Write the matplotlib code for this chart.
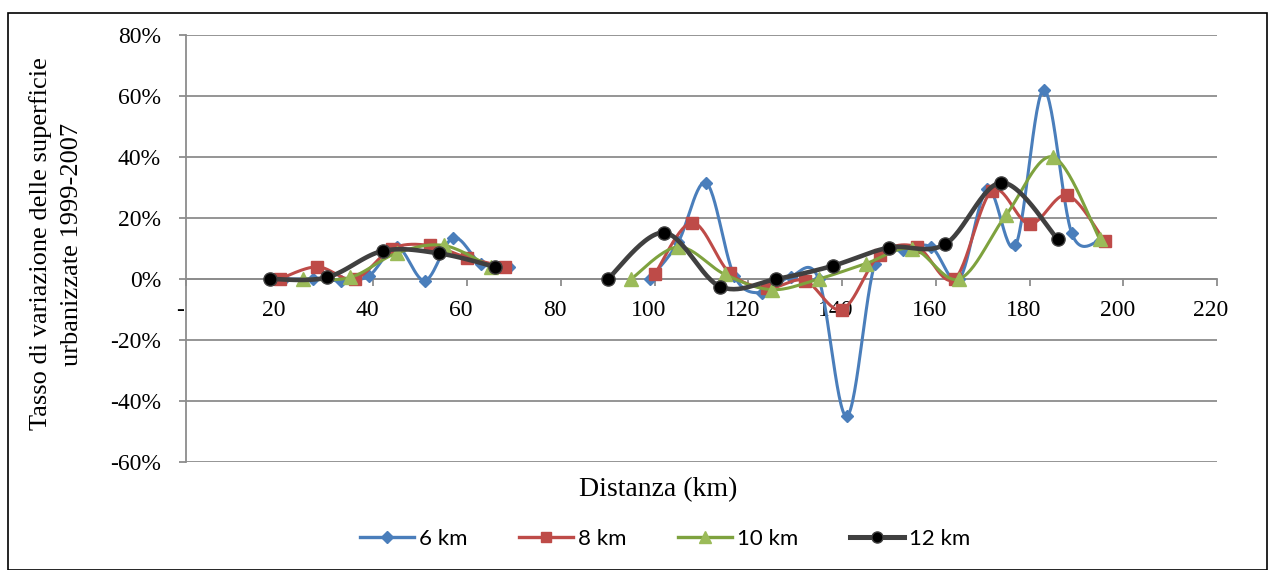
import numpy as np
import matplotlib
matplotlib.use("Agg")
import matplotlib.pyplot as plt
from matplotlib.lines import Line2D
from matplotlib.patches import Rectangle
from matplotlib.ticker import FixedLocator, FuncFormatter
from matplotlib.transforms import ScaledTranslation

nan = np.nan

# ---- data (distance km, rate %) ----
x6 = [21, 27, 33, 39, 45, 51, 57, 63, 69, 75, 81, 87, 93, 99, 105, 111, 117, 123,
      129, 135, 141, 147, 153, 159, 165, 171, 177, 183, 189, 195]
y6 = [0, 0, -0.5, 1, 10.5, -0.5, 13.5, 5, 4, nan, nan, nan, nan, 0, 12, 31.5, 1, -4.5,
      0.8, 0, -45, 5, 9.5, 10.5, 0, 29.5, 11, 62, 15, 12.5]

x8 = [20, 28, 36, 44, 52, 60, 68, 76, 84, 92, 100, 108, 116, 124, 132, 140, 148, 156,
      164, 172, 180, 188, 196]
y8 = [0, 4, 0, 10, 11, 7, 4, nan, nan, nan, 1.5, 18.5, 2, -3, -0.5, -10, 8, 10.5,
      0, 29, 18, 27.5, 12.5]

x10 = [25, 35, 45, 55, 65, 75, 85, 95, 105, 115, 125, 135, 145, 155, 165, 175, 185, 195]
y10 = [0, 0.5, 8.5, 11, 4, nan, nan, 0, 10.5, 1.5, -3.5, 0, 5, 10, 0, 21, 40, 13]

x12 = [18, 30, 42, 54, 66, 78, 90, 102, 114, 126, 138, 150, 162, 174, 186]
y12 = [0, 0.5, 9.2, 8.4, 4, nan, 0, 15.2, -2.5, 0, 4.3, 10.3, 11.4, 31.6, 13.1]

labels = ["6 km", "8 km", "10 km", "12 km"]
xticks = [0, 20, 40, 60, 80, 100, 120, 140, 160, 180, 200, 220]
yticks = [-60, -40, -20, 0, 20, 40, 60, 80]

# ---- style ----
colors = ["#4A7EBB", "#BE4B48", "#7EA23E", "#404040"]
mfc = ["#4A7EBB", "#BE4B48", "#9BBB59", "#000000"]
mec = ["#4A7EBB", "#BE4B48", "#9BBB59", "#404040"]
markers = ["D", "s", "^", "o"]
msizes = [6.5, 8, 10.5, 9.5]
leg_ms = [6, 7, 8.5, 8]
lws = [2.2, 2.2, 2.2, 3.3]
serif = ["Liberation Serif", "DejaVu Serif"]
grid_c = "#8C8C8C"


def smooth_runs(xs, ys, n=30):
    xs = np.asarray(xs, float)
    ys = np.asarray(ys, float)
    runs, cur = [], []
    for xv, yv in zip(xs, ys):
        if np.isnan(yv):
            if cur:
                runs.append(cur)
            cur = []
        else:
            cur.append((xv, yv))
    if cur:
        runs.append(cur)
    out = []
    for r in runs:
        P = np.array(r)
        m = len(P)
        if m == 1:
            out.append((P[:, 0], P[:, 1]))
            continue
        segx, segy = [], []
        t = np.linspace(0, 1, n)
        for i in range(m - 1):
            p0 = P[max(i - 1, 0)]
            p1 = P[i]
            p2 = P[i + 1]
            p3 = P[min(i + 2, m - 1)]
            c1 = p1 + (p2 - p0) / 6.0
            c2 = p2 - (p3 - p1) / 6.0
            b = ((1 - t) ** 3)[:, None] * p1 + (3 * (1 - t) ** 2 * t)[:, None] * c1 \
                + (3 * (1 - t) * t ** 2)[:, None] * c2 + (t ** 3)[:, None] * p2
            segx.append(b[:, 0])
            segy.append(b[:, 1])
        out.append((np.concatenate(segx), np.concatenate(segy)))
    return out


plt.rcParams["axes.unicode_minus"] = False
W, H = 1274, 570
fig = plt.figure(figsize=(W / 100, H / 100), dpi=100)
ax = fig.add_axes([186 / W, 1 - 462 / H, (1217 - 186) / W, (462 - 35) / H])

series = [(x6, y6), (x8, y8), (x10, y10), (x12, y12)]
for k, (xs, ys) in enumerate(series):
    for sx, sy in smooth_runs(xs, ys):
        ax.plot(sx, sy, color=colors[k], lw=lws[k], zorder=3 + k, solid_capstyle="round")
    ax.plot(xs, ys, ls="none", marker=markers[k], ms=msizes[k], mfc=mfc[k], mec=mec[k],
            mew=1.0, zorder=3 + k)

ax.set_xlim(0, 220)
ax.set_ylim(-60, 80)
ax.yaxis.set_major_locator(FixedLocator(yticks))
ax.xaxis.set_major_locator(FixedLocator(xticks))
ax.yaxis.set_major_formatter(FuncFormatter(lambda v, p: "%d%%" % round(v)))
ax.xaxis.set_major_formatter(FuncFormatter(lambda v, p: "-" if v == 0 else "%d" % round(v)))
ax.grid(axis="y", color=grid_c, lw=1.3, zorder=1)
ax.set_axisbelow(True)
for s in ["top", "right"]:
    ax.spines[s].set_visible(False)
ax.spines["bottom"].set_position(("data", 0))
ax.spines["bottom"].set_color(grid_c)
ax.spines["bottom"].set_linewidth(1.3)
ax.spines["left"].set_color(grid_c)
ax.spines["left"].set_linewidth(1.3)
ax.tick_params(axis="y", direction="out", length=5, width=1.3, color=grid_c, pad=13,
               labelsize=17)
ax.tick_params(axis="x", direction="out", length=5, width=1.3, color=grid_c, pad=10,
               labelsize=17)
for lab in ax.get_xticklabels() + ax.get_yticklabels():
    lab.set_family(serif)
off = ScaledTranslation(-6 / 100, 0, fig.dpi_scale_trans)
for lab in ax.get_xticklabels():
    lab.set_transform(lab.get_transform() + off)

fig.text(56 / W, 1 - 244 / H, "Tasso di variazione delle superficie\nurbanizzate 1999-2007",
         rotation=90, ha="center", va="center", multialignment="center",
         family=serif, fontsize=19, linespacing=1.5)
fig.text(658 / W, 1 - 490 / H, "Distanza (km)", ha="center", va="center",
         family=serif, fontsize=20)

handles = [Line2D([], [], color=colors[k], lw=lws[k] * 1.1, marker=markers[k], ms=leg_ms[k],
                  mfc=mfc[k], mec=mec[k]) for k in range(4)]
fig.legend(handles, labels, loc="center", bbox_to_anchor=(665 / W, 1 - 539 / H),
           ncol=4, frameon=False, prop={"family": ["Lato", "DejaVu Sans"], "size": 16},
           handlelength=2.45, handletextpad=0.22, columnspacing=2.3)

fig.add_artist(Rectangle((8 / W, 0.5 / H), (1267 - 8) / W, (570 - 13 - 0.5) / H,
                         transform=fig.transFigure, fill=False, ec="black", lw=1.2))

fig.savefig("out.png", dpi=100)
